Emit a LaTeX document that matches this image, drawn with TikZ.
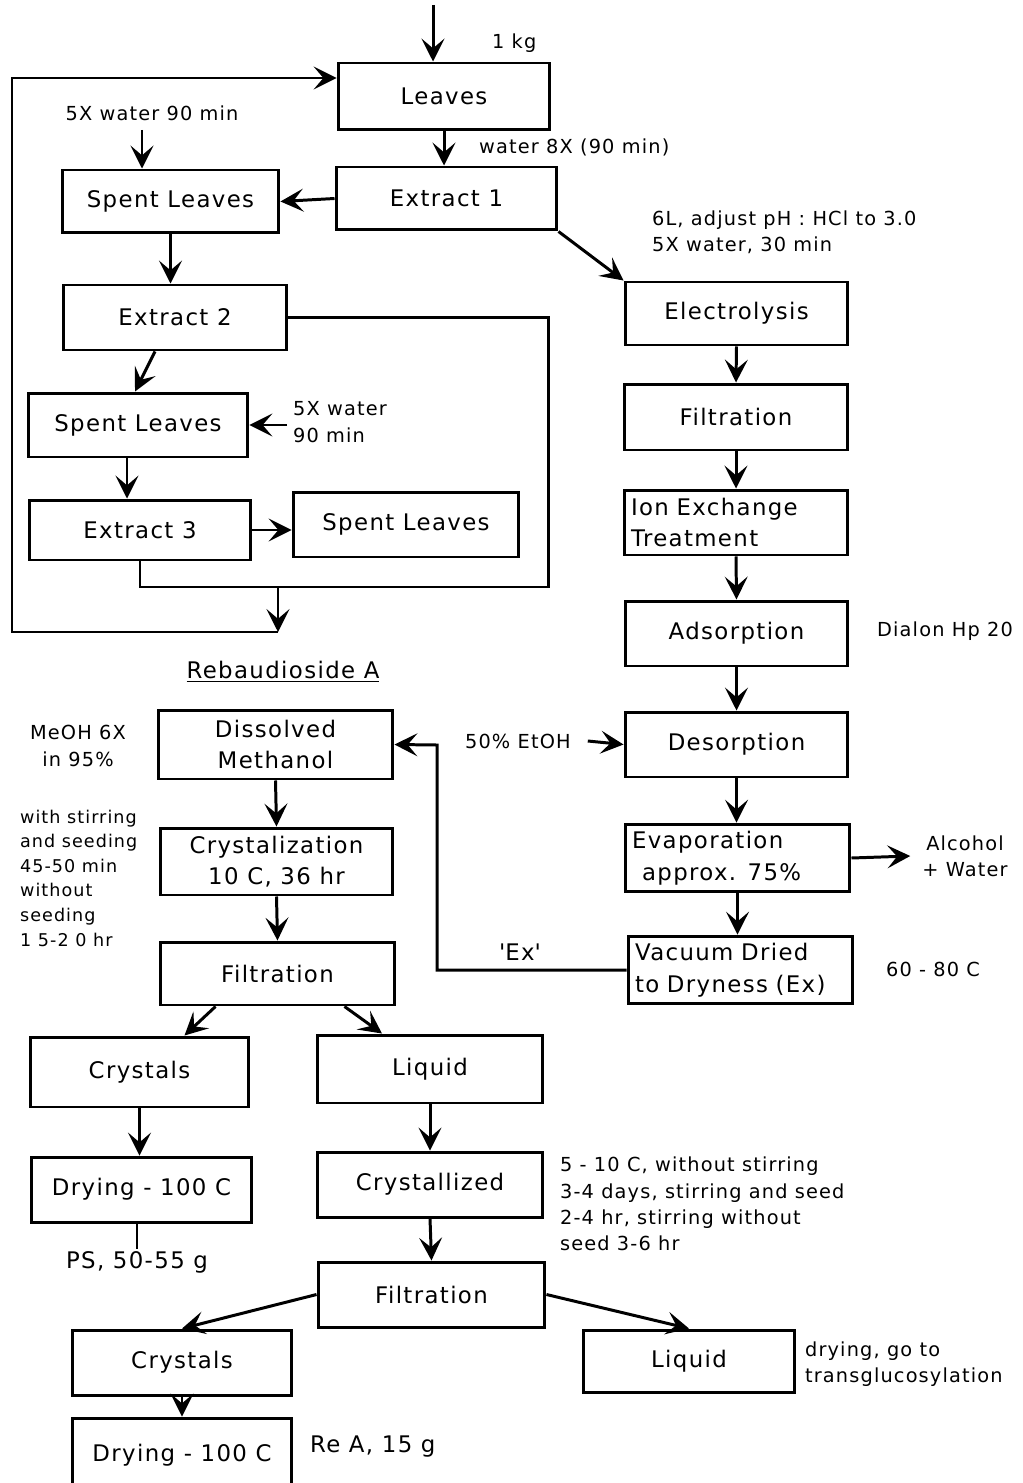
\documentclass[tikz,border=0pt]{standalone}
\usepackage{fontspec}
\setmainfont{DejaVu Sans}[LetterSpace=6]
\usepackage{tikz}
\usetikzlibrary{positioning,arrows.meta,shapes}
\tikzstyle{process} = [rectangle, draw=black, line width=1.7pt, minimum height=1.3cm, inner sep=2pt, align=center, font=\fontsize{13}{18}\selectfont]
\tikzstyle{note} = [align=left, inner sep=1pt, font=\fontsize{11}{15}\selectfont]
\tikzstyle{tag} = [inner sep=1pt, font=\fontsize{13}{18}\selectfont]
\tikzstyle{flow} = [line width=1.7pt]
\tikzstyle{arrow} = [line width=1.7pt, -{Stealth[length=13pt, width=13pt, inset=5.5pt]}]

\begin{document}
\begin{tikzpicture}[x=0.02cm, y=-0.02cm]
\useasboundingbox (0,0) rectangle (1022,1483);
\fill[white] (0,0) rectangle (1022,1483);

% extraction of the leaves
\node[process, minimum width=4.24cm, minimum height=1.34cm] (leaves) at (444,96.5) {Leaves};
\node[process, minimum width=4.42cm, minimum height=1.26cm] (extract1) at (446.5,198.5) {Extract 1};
\node[process, minimum width=4.34cm, minimum height=1.26cm] (spent1) at (170.5,201.5) {Spent Leaves};
\node[process, minimum width=4.48cm] (extract2) at (175,317.5) {Extract 2};
\node[process, minimum width=4.4cm, minimum height=1.28cm] (spent2) at (138,425) {Spent Leaves};
\node[process, minimum width=4.44cm, minimum height=1.2cm] (extract3) at (140,530) {Extract 3};
\node[process, minimum width=4.52cm] (spent3) at (406,524.5) {Spent Leaves};

\node[note, anchor=west] (kg) at (490,43) {1 kg};
\node[note, anchor=west] (water8) at (477,147) {water 8X (90 min)};
\node[note] (water5a) at (152,113) {5X water 90 min};
\node[note, anchor=west] (water5b) at (291,422) {5X water\\90 min};

\coordinate (in) at (433,5);
\coordinate (w1) at (142,130);
\coordinate (w2) at (287,425);
\draw[arrow] (in) -- (in |- leaves.north);
\draw[arrow] (leaves.south) -- (leaves.south |- extract1.north);
\draw[arrow] (extract1.west) -- (spent1.east);
\draw[arrow] (w1) -- (w1 |- spent1.north);
\draw[arrow] (spent1.south) -- (spent1.south |- extract2.north);
\draw[arrow] ([xshift=-0.4cm]extract2.south) -- ([xshift=-0.06cm]spent2.north);
\draw[arrow] (w2) -- (spent2.east);
\draw[arrow] ([xshift=-0.22cm]spent2.south) -- ([xshift=-0.22cm]spent2.south |- extract3.north);
\draw[arrow] (extract3.east) -- (extract3.east -| spent3.west);

% extracts back to the leaves
\coordinate (c1) at (548,587);
\coordinate (c2) at (278,587);
\coordinate (c3) at (278,632);
\coordinate (c4) at (12,632);
\coordinate (c5) at (12,78);
\draw[flow] (extract2.east) -| (c1) -- (extract3.south |- c1) -- (extract3.south);
\draw[arrow] (c2) -- (c3);
\draw[arrow] (c3) -- (c4) -- (c5) -- (c5 -| leaves.west);

% purification
\node[process, minimum width=4.46cm, minimum height=1.26cm] (electro) at (736.5,313.5) {Electrolysis};
\node[process, minimum width=4.48cm, minimum height=1.32cm] (filtR) at (736,417) {Filtration};
\node[process, text width=4.2cm, inner sep=0.14cm, align=left] (ion) at (736,522.5) {Ion Exchange\\Treatment};
\node[process, minimum width=4.46cm] (adsorp) at (736.5,633.5) {Adsorption};
\node[process, minimum width=4.46cm] (desorp) at (736.5,744.5) {Desorption};
\node[process, text width=4.22cm, inner sep=0.14cm, align=left] (evap) at (737.5,858) {Evaporation\\\hspace*{0.2cm}approx. 75\%};
\node[process, text width=4.22cm, inner sep=0.14cm, align=left] (vacuum) at (740.5,970) {Vacuum Dried\\to Dryness (Ex)};

\node[note, anchor=west] (ph) at (650,232) {6L, adjust pH : HCl to 3.0\\5X water, 30 min};
\node[note] (dialon) at (945,631) {Dialon Hp 20};
\node[note, anchor=west] (etoh) at (463,741) {50\% EtOH};
\node[note, align=center] (alcohol) at (965,856) {Alcohol\\+ Water};
\node[note] (temp) at (933,969) {60 - 80 C};
\node[tag] (ex) at (520,952) {\textquotesingle Ex\textquotesingle};

\draw[arrow] (extract1.south east) -- (electro.north west);
\draw[arrow] (electro.south) -- (filtR.north);
\draw[arrow] (filtR.south) -- (ion.north);
\draw[arrow] (ion.south) -- (adsorp.north);
\draw[arrow] (adsorp.south) -- (desorp.north);
\draw[arrow] (desorp.south) -- (desorp.south |- evap.north);
\draw[arrow] (evap.south) -- (evap.south |- vacuum.north);
\draw[arrow] ([xshift=0.3cm]etoh.east) -- (desorp.west);
\draw[arrow] (evap.east) -- ([xshift=-0.2cm]alcohol.west);

% rebaudioside A
\node[tag] (title) at (283,672) {\underline{Rebaudioside A}};
\node[process, minimum width=4.7cm, minimum height=1.38cm] (dissolved) at (275.5,744.5) {Dissolved\\Methanol};
\node[process, minimum width=4.66cm, minimum height=1.34cm] (cryst) at (276.5,861.5) {Crystalization\\10 C, 36 hr};
\node[process, minimum width=4.7cm, minimum height=1.26cm] (filtL) at (277.5,973.5) {Filtration};
\node[process, minimum width=4.38cm, minimum height=1.4cm] (crystalsA) at (139.5,1072) {Crystals};
\node[process, minimum width=4.52cm, minimum height=1.36cm] (liquidA) at (430,1069) {Liquid};
\node[process, minimum width=4.42cm] (dryingA) at (141.5,1189.5) {Drying - 100 C};
\node[process, minimum width=4.52cm] (crystd) at (430,1184.5) {Crystallized};
\node[process, minimum width=4.54cm] (filtB) at (431.5,1294.5) {Filtration};
\node[process, minimum width=4.4cm] (crystalsB) at (182,1362.5) {Crystals};
\node[process, minimum width=4.24cm, minimum height=1.24cm] (liquidB) at (689,1361) {Liquid};
\node[process, minimum width=4.4cm, minimum height=1.5cm] (dryingB) at (182,1455.5) {Drying - 100 C};

\node[note, align=center] (meoh) at (78,746) {MeOH 6X\\in 95\%};
\node[note, anchor=west, font=\fontsize{10}{14}\selectfont] (stir) at (18,878) {with stirring\\and seeding\\45-50 min\\without\\seeding\\1 5-2 0 hr};
\node[tag] (ps) at (137,1262) {PS, 50-55 g};
\node[note, anchor=west] (cond) at (558,1204) {5 - 10 C, without stirring\\3-4 days, stirring and seed\\2-4 hr, stirring without\\seed 3-6 hr};
\node[note, anchor=west] (transg) at (803,1364) {drying, go to\\transglucosylation};
\node[tag, anchor=west] (rea) at (308,1447) {Re A, 15 g};

\coordinate (exc) at (437,745);
\draw[arrow] (vacuum.west) -| (exc) -- (dissolved.east);
\draw[arrow] (dissolved.south) -- (cryst.north);
\draw[arrow] (cryst.south) -- (filtL.north);
\draw[arrow] ([xshift=-1.24cm]filtL.south) -- ([xshift=0.9cm]crystalsA.north);
\draw[arrow] ([xshift=1.34cm]filtL.south) -- ([xshift=-0.96cm]liquidA.north);
\draw[arrow] (crystalsA.south) -- (crystalsA.south |- dryingA.north);
\draw[flow] (ps.north |- dryingA.south) -- (ps.north);
\draw[arrow] (liquidA.south) -- (crystd.north);
\draw[arrow] (crystd.south) -- (filtB.north);
\draw[arrow] (filtB.west) -- (crystalsB.north);
\draw[arrow] (filtB.east) -- (liquidB.north);
\draw[arrow] (crystalsB.south) -- (dryingB.north);
\end{tikzpicture}
\end{document}
